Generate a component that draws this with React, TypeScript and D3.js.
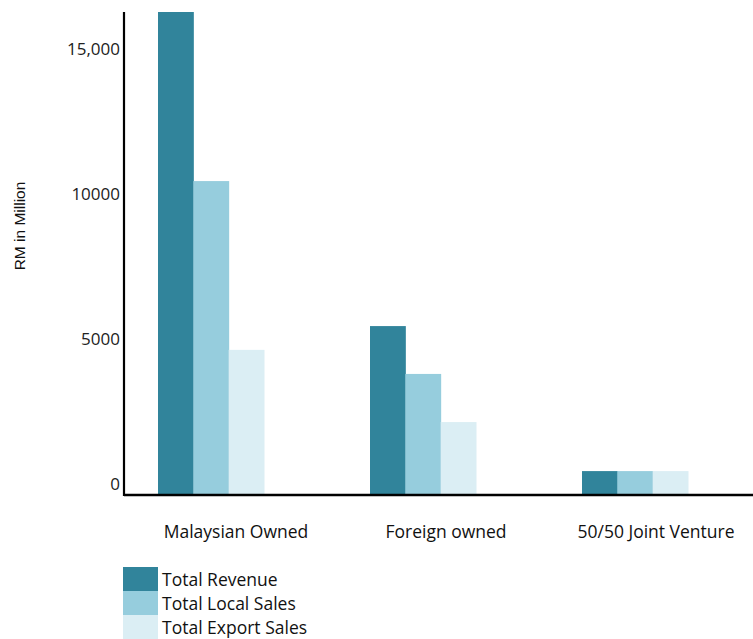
import * as d3 from 'd3'

const categories = ['Malaysian Owned', 'Foreign owned', '50/50 Joint Venture']
const seriesNames = ['Total Revenue', 'Total Local Sales', 'Total Export Sales']
const totalRevenue = [16620, 5790, 790]
const totalLocalSales = [10790, 4140, 790]
const totalExportSales = [4970, 2480, 790]
const tickValues = [0, 5000, 10000, 15000]
const tickLabels = ['0', '5000', '10000', '15,000']

const colors = ['#31849b', '#96cddd', '#dbeef4']
const font = "'Open Sans', 'Liberation Sans', sans-serif"

export default function App() {
  const width = 753
  const height = 639
  const axisX = 124
  const series = [totalRevenue, totalLocalSales, totalExportSales]

  // value scale: 29px per 1000
  const y = d3.scaleLinear().domain([0, 16620]).range([494, 12])

  const x0 = d3.scaleBand().domain(categories).range([136.8, 709.2]).paddingInner(0.5).paddingOuter(0.1)
  const x1 = d3.scaleBand().domain(seriesNames).range([0, x0.bandwidth()])
  const xLabel = d3.scaleBand().domain(categories).range([131, 761])

  return (
    <svg width={width} height={height} style={{ position: 'absolute', left: 0, top: 0, background: '#fff' }}>
      {categories.map((c, ci) =>
        seriesNames.map((s, si) => (
          <rect
            key={c + s}
            x={(x0(c) ?? 0) + (x1(s) ?? 0)}
            y={y(series[si][ci])}
            width={x1.bandwidth() + 0.5}
            height={y(0) - y(series[si][ci]) + 1}
            fill={colors[si]}
          />
        ))
      )}

      {/* axes */}
      <line x1={axisX} x2={axisX} y1={y.range()[1]} y2={y(0) + 2} stroke="#000" strokeWidth={2.2} />
      <line x1={axisX} x2={width} y1={y(0) + 1} y2={y(0) + 1} stroke="#000" strokeWidth={2.5} />

      {tickValues.map((v, i) => (
        <text key={v} x={120} y={y(v) - 10} dy="0.35em" textAnchor="end" fontFamily={font} fontSize={17} fill="#222">
          {tickLabels[i]}
        </text>
      ))}

      <text
        transform={`translate(25, 226) rotate(-90)`}
        textAnchor="middle"
        fontFamily="'Liberation Sans', Arial, sans-serif"
        fontSize={15.5}
        fill="#111"
      >
        RM in Million
      </text>

      {categories.map(c => (
        <text
          key={c}
          x={(xLabel(c) ?? 0) + xLabel.bandwidth() / 2}
          y={538}
          textAnchor="middle"
          fontFamily={font}
          fontSize={17.5}
          fill="#111"
        >
          {c}
        </text>
      ))}

      {/* legend */}
      <g transform="translate(123, 567)">
        {seriesNames.map((s, i) => (
          <g key={s} transform={`translate(0, ${i * 24})`}>
            <rect width={35} height={24} fill={colors[i]} />
            <text x={39} y={19} fontFamily={font} fontSize={17.5} fill="#111">{s}</text>
          </g>
        ))}
      </g>
    </svg>
  )
}
